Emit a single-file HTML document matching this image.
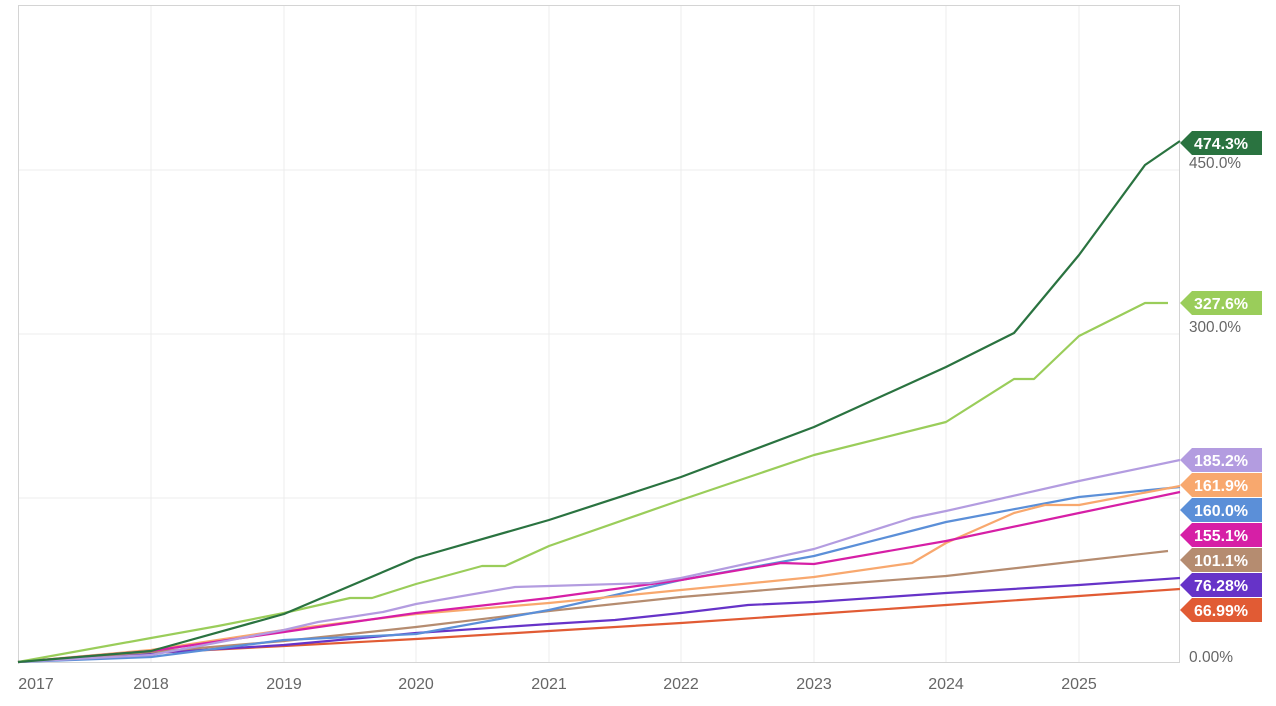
<!DOCTYPE html>
<html><head><meta charset="utf-8"><style>
body{margin:0;background:#fff;width:1276px;height:706px;overflow:hidden}
svg{display:block}
text{font-family:"Liberation Sans",sans-serif}
</style></head><body>
<svg width="1276" height="706" viewBox="0 0 1276 706">
<g stroke="#ececec" stroke-width="1">
<line x1="151" y1="5" x2="151" y2="662"/><line x1="284" y1="5" x2="284" y2="662"/><line x1="416" y1="5" x2="416" y2="662"/><line x1="549" y1="5" x2="549" y2="662"/><line x1="681" y1="5" x2="681" y2="662"/><line x1="814" y1="5" x2="814" y2="662"/><line x1="946" y1="5" x2="946" y2="662"/><line x1="1079" y1="5" x2="1079" y2="662"/>
<line x1="18" y1="170" x2="1179" y2="170"/><line x1="18" y1="334" x2="1179" y2="334"/><line x1="18" y1="498" x2="1179" y2="498"/>
</g>
<rect x="18.5" y="5.5" width="1161" height="657" fill="none" stroke="#d4d4d4"/>
<g fill="none" stroke-width="2.2" stroke-linejoin="round">
<polyline stroke="#e15b34" points="18,662 151,653 284,646 416,639 549,631 681,623 814,614 946,605 1079,596 1180,589"/>
<polyline stroke="#6633c8" points="18,662 151,653 284,645 416,633 549,624 615,620 681,613 748,605 814,602 946,593 1079,585 1180,578"/>
<polyline stroke="#b58c70" points="18,662 151,652 284,641 416,627 549,611 681,597 814,586 946,576 1079,561 1168,551"/>
<polyline stroke="#5b8fd8" points="18,662 151,657 284,640 416,634 549,610 681,580 814,556 946,522 1079,497 1180,487"/>
<polyline stroke="#f8a86e" points="18,662 151,650 284,630 416,614 549,603 681,590 814,577 912,563 946,543 1014,513 1045,505 1079,505 1180,486"/>
<polyline stroke="#d61fa6" points="18,662 151,651 284,632 416,613 549,598 681,580 781,563 814,564 946,541 1079,513 1180,492"/>
<polyline stroke="#b39ce0" points="18,662 151,655 284,630 318,622 383,612 416,604 515,587 549,586 650,583 681,578 814,549 912,518 946,511 1079,481 1180,460"/>
<polyline stroke="#9acd5a" points="18,662 151,638 218,626 284,613 350,598 372,598 416,584 482,566 505,566 549,546 681,500 814,455 946,422 1014,379 1034,379 1079,336 1145,303 1168,303"/>
<polyline stroke="#2a7340" points="18,662 151,651 284,614 416,558 549,520 681,477 814,427 946,367 1014,333 1079,255 1145,165 1180,141"/>
</g>
<g font-size="16" fill="#666">
<text x="1189" y="168" textLength="52" lengthAdjust="spacingAndGlyphs">450.0%</text><text x="1189" y="332" textLength="52" lengthAdjust="spacingAndGlyphs">300.0%</text><text x="1189" y="662" textLength="44" lengthAdjust="spacingAndGlyphs">0.00%</text>
<g text-anchor="middle"><text x="36" y="689">2017</text><text x="151" y="689">2018</text><text x="284" y="689">2019</text><text x="416" y="689">2020</text><text x="549" y="689">2021</text><text x="681" y="689">2022</text><text x="814" y="689">2023</text><text x="946" y="689">2024</text><text x="1079" y="689">2025</text></g>
</g>
<g font-size="16" font-weight="bold" fill="#fff">
<g transform="translate(0,143)"><polygon fill="#2a7340" points="1180,0 1192,-12 1262,-12 1262,12 1192,12"/><text x="1194" y="6" textLength="54" lengthAdjust="spacingAndGlyphs">474.3%</text></g>
<g transform="translate(0,303)"><polygon fill="#9acd5a" points="1180,0 1192,-12 1262,-12 1262,12 1192,12"/><text x="1194" y="6" textLength="54" lengthAdjust="spacingAndGlyphs">327.6%</text></g>
<g transform="translate(0,460)"><polygon fill="#b39ce0" points="1180,0 1192,-12 1262,-12 1262,12 1192,12"/><text x="1194" y="6" textLength="54" lengthAdjust="spacingAndGlyphs">185.2%</text></g>
<g transform="translate(0,485)"><polygon fill="#f8a86e" points="1180,0 1192,-12 1262,-12 1262,12 1192,12"/><text x="1194" y="6" textLength="54" lengthAdjust="spacingAndGlyphs">161.9%</text></g>
<g transform="translate(0,510)"><polygon fill="#5b8fd8" points="1180,0 1192,-12 1262,-12 1262,12 1192,12"/><text x="1194" y="6" textLength="54" lengthAdjust="spacingAndGlyphs">160.0%</text></g>
<g transform="translate(0,535)"><polygon fill="#d61fa6" points="1180,0 1192,-12 1262,-12 1262,12 1192,12"/><text x="1194" y="6" textLength="54" lengthAdjust="spacingAndGlyphs">155.1%</text></g>
<g transform="translate(0,560)"><polygon fill="#b58c70" points="1180,0 1192,-12 1262,-12 1262,12 1192,12"/><text x="1194" y="6" textLength="54" lengthAdjust="spacingAndGlyphs">101.1%</text></g>
<g transform="translate(0,585)"><polygon fill="#6633c8" points="1180,0 1192,-12 1262,-12 1262,12 1192,12"/><text x="1194" y="6" textLength="54" lengthAdjust="spacingAndGlyphs">76.28%</text></g>
<g transform="translate(0,610)"><polygon fill="#e15b34" points="1180,0 1192,-12 1262,-12 1262,12 1192,12"/><text x="1194" y="6" textLength="54" lengthAdjust="spacingAndGlyphs">66.99%</text></g>
</g>
</svg>
</body></html>
